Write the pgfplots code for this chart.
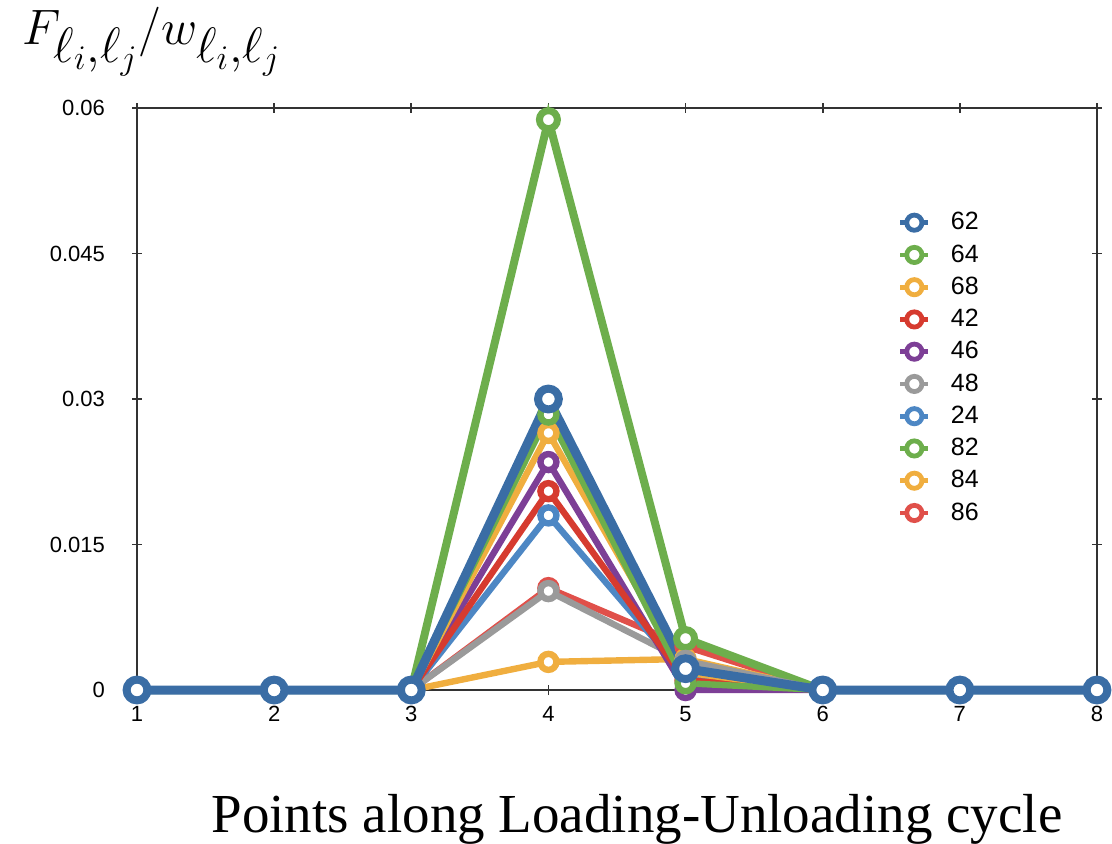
\documentclass[border=0pt]{standalone}
\usepackage{fontspec}
\setmainfont{Liberation Serif}
\newfontfamily\tickfont{Liberation Sans}
\usepackage{pgfplots}
\pgfplotsset{compat=1.18}
\definecolor{cA}{HTML}{3A6DA5}
\definecolor{cG}{HTML}{6DAE4C}
\definecolor{cO}{HTML}{F0AE3F}
\definecolor{cR}{HTML}{D63B2F}
\definecolor{cP}{HTML}{7D3F96}
\definecolor{cY}{HTML}{9A9A9A}
\definecolor{cB}{HTML}{4D87C4}
\definecolor{cR2}{HTML}{E0504A}
\definecolor{axc}{HTML}{333333}
\begin{document}
\begin{tikzpicture}
\begin{axis}[
  at={(0,0)}, anchor=south west,
  scale only axis, width=480pt, height=291pt,
  xmin=1, xmax=8, ymin=0, ymax=0.06,
  xtick={1,...,8},
  ytick={0,0.015,0.03,0.045,0.06},
  yticklabels={0,0.015,0.03,0.045,0.06},
  scaled y ticks=false,
  /pgf/number format/assume math mode=true,
  tick align=center, major tick length=5pt,
  axis line style={axc, line width=0.9pt},
  tick style={axc, line width=0.8pt},
  ticklabel style={font=\tickfont\fontsize{11}{13}\selectfont, text=black},
  yticklabel style={xshift=-10pt},
  xticklabel style={yshift=-2pt},
  clip=false,
  reverse legend,
  legend style={draw=none, fill=none, at={(0.786,0.835)}, anchor=north west,
    font=\tickfont\fontsize{12.5}{14}\selectfont, row sep=1.9pt,
    /tikz/every even column/.append style={column sep=0pt}},
  legend cell align=left,
  legend image code/.code={%
    \draw[#1, line width=2.4pt] (0pt,0pt) -- (14pt,0pt);
    \draw[#1, line width=2.4pt, fill=white] (7pt,0pt) circle (3.8pt);
    \path (21pt,0pt);
  },
  every axis plot/.append style={line width=3.2pt, mark=*, mark size=4pt,
    mark options={fill=white, line width=3.2pt}},
]
\addplot[cR2] coordinates {(1,0)(2,0)(3,0)(4,0.0105)(5,0.0045)(6,0)(7,0)(8,0)};
\addlegendentry{86}
\addplot[cO] coordinates {(1,0)(2,0)(3,0)(4,0.0029)(5,0.0032)(6,0)(7,0)(8,0)};
\addlegendentry{84}
\addplot[cG, line width=4pt, mark options={fill=white, line width=3.5pt}, mark size=4.5pt] coordinates {(1,0)(2,0)(3,0)(4,0.0588)(5,0.0053)(6,0)(7,0)(8,0)};
\addlegendentry{82}
\addplot[cB] coordinates {(1,0)(2,0)(3,0)(4,0.018)(5,0.0015)(6,0)(7,0)(8,0)};
\addlegendentry{24}
\addplot[cY] coordinates {(1,0)(2,0)(3,0)(4,0.0102)(5,0.003)(6,0)(7,0)(8,0)};
\addlegendentry{48}
\addplot[cP] coordinates {(1,0)(2,0)(3,0)(4,0.0235)(5,0.0)(6,0)(7,0)(8,0)};
\addlegendentry{46}
\addplot[cR] coordinates {(1,0)(2,0)(3,0)(4,0.0205)(5,0.001)(6,0)(7,0)(8,0)};
\addlegendentry{42}
\addplot[cO] coordinates {(1,0)(2,0)(3,0)(4,0.0265)(5,0.0018)(6,0)(7,0)(8,0)};
\addlegendentry{68}
\addplot[cG] coordinates {(1,0)(2,0)(3,0)(4,0.0284)(5,0.0007)(6,0)(7,0)(8,0)};
\addlegendentry{64}
\addplot[cA, line width=4.5pt, mark size=5.2pt, mark options={fill=white, line width=4pt}] coordinates {(1,0)(2,0)(3,0)(4,0.030)(5,0.0022)(6,0)(7,0)(8,0)};
\addlegendentry{62}
\end{axis}
\node[anchor=west] at (-61pt,324pt) {\fontsize{35.5}{38}\selectfont $F_{\ell_i,\ell_j}/w_{\ell_i,\ell_j}$};
\node[anchor=center] at (250pt,-64.5pt) {\fontsize{27.5}{30}\selectfont Points along Loading-Unloading cycle};
\pgfresetboundingbox
\path (-68.5pt,-76.5pt) rectangle (487.5pt,345pt);
\end{tikzpicture}
\end{document}
